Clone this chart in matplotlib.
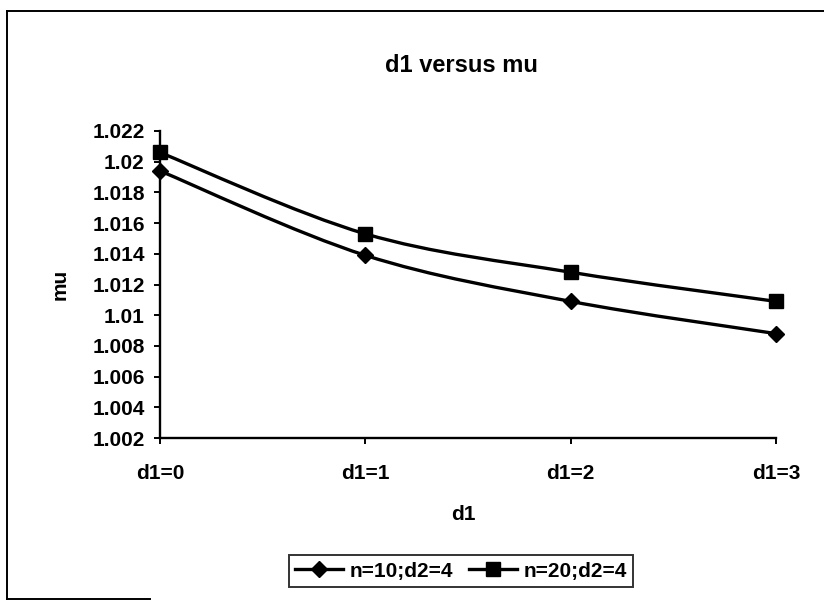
#!/usr/bin/env python3
"""d1 versus mu, two sample sizes (Excel-style smoothed line chart)."""

import matplotlib
matplotlib.use("Agg")
import matplotlib.pyplot as plt
import numpy as np
from matplotlib.patches import PathPatch
from matplotlib.path import Path
from matplotlib.lines import Line2D

categories = ["d1=0", "d1=1", "d1=2", "d1=3"]
mu_n10 = [1.0194, 1.0139, 1.0109, 1.0088]
mu_n20 = [1.0206, 1.0153, 1.0128, 1.0109]
series_labels = ["n=10;d2=4", "n=20;d2=4"]
y_ticks = [1.002, 1.004, 1.006, 1.008, 1.010, 1.012, 1.014, 1.016, 1.018, 1.020, 1.022]

plt.rcParams["font.family"] = ["Liberation Sans", "DejaVu Sans"]
plt.rcParams["font.weight"] = "bold"


def smooth_path(x, y):
    """Catmull-Rom style bezier through the points (like Excel smoothing)."""
    pts = np.column_stack([x, y])
    ext = np.vstack([pts[0], pts, pts[-1]])
    verts = [pts[0]]
    codes = [Path.MOVETO]
    for i in range(1, len(ext) - 2):
        p0, p1, p2, p3 = ext[i - 1], ext[i], ext[i + 1], ext[i + 2]
        verts += [p1 + (p2 - p0) / 6, p2 - (p3 - p1) / 6, p2]
        codes += [Path.CURVE4] * 3
    return Path(verts, codes)


fig = plt.figure(figsize=(8.24, 6.10), dpi=100)
ax = fig.add_axes([160 / 824, 1 - 438 / 610, 616 / 824, 307 / 610])

x = np.arange(len(categories))
handles = []
for vals, marker, ms, label in [(mu_n10, "D", 8.5, series_labels[0]),
                                (mu_n20, "s", 10, series_labels[1])]:
    ax.add_patch(PathPatch(smooth_path(x, vals), fill=False, edgecolor="black",
                           linewidth=2.4, clip_on=False))
    ax.plot(x, vals, linestyle="none", marker=marker, markersize=ms,
            color="black", clip_on=False, zorder=3)
    handles.append(Line2D([], [], color="black", linewidth=2.4, marker=marker,
                          markersize=ms, label=label))

ax.set_xlim(0, 3)
ax.set_ylim(1.002, 1.022)
ax.set_xticks(x)
ax.set_xticklabels(categories, fontsize=15, fontweight="bold")
ax.set_yticks(y_ticks)
ax.set_yticklabels(["%g" % v for v in y_ticks], fontsize=15, fontweight="bold")
ax.tick_params(axis="both", direction="out", length=4, width=1.4, colors="black")
ax.tick_params(axis="x", pad=15)
ax.tick_params(axis="y", pad=7)
for side in ["top", "right"]:
    ax.spines[side].set_visible(False)
for side in ["left", "bottom"]:
    ax.spines[side].set_linewidth(1.7)

fig.text(461 / 824, 1 - 65 / 610, "d1 versus mu", ha="center", va="center",
         fontsize=17, fontweight="heavy")
fig.text(463 / 824, 1 - 514 / 610, "d1", ha="center", va="center",
         fontsize=15, fontweight="bold")
fig.text(60 / 824, 1 - 284 / 610, "mu", ha="center", va="center",
         rotation=90, fontsize=15, fontweight="bold")

leg = fig.legend(handles=handles, loc="center", ncol=2,
                 bbox_to_anchor=(461 / 824, 1 - 571 / 610), fancybox=False,
                 edgecolor="black", fontsize=15, handlelength=2.3,
                 handletextpad=0.3, columnspacing=0.8, borderpad=0.3,
                 borderaxespad=0)
leg.get_frame().set_linewidth(1.4)
for t in leg.get_texts():
    t.set_fontweight("bold")

# outer chart border (left, top and a piece of the bottom are visible)
border = dict(transform=fig.transFigure, color="black", linewidth=1.4)
fig.add_artist(Line2D([7 / 824, 7 / 824], [1 - 599 / 610, 1 - 11 / 610], **border))
fig.add_artist(Line2D([7 / 824, 1.0], [1 - 11 / 610, 1 - 11 / 610], **border))
fig.add_artist(Line2D([7 / 824, 150 / 824], [1 - 599 / 610, 1 - 599 / 610], **border))

plt.savefig("out.png", dpi=100)
